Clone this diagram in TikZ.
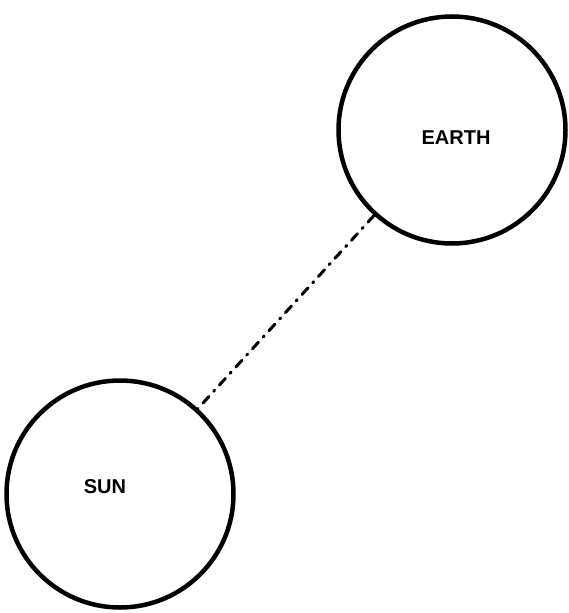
\documentclass[tikz,border=0pt]{standalone}
\usepackage{fontspec}
\setmainfont{Liberation Sans}
\begin{document}
\begin{tikzpicture}[x=1pt,y=-1pt,
  body/.style={circle,draw=black,line width=4.5pt,minimum size=227pt,inner sep=0pt},
  lbl/.style={font=\bfseries\fontsize{20}{20}\selectfont,inner sep=0pt},
  link/.style={line width=3pt,line cap=round,dash pattern=on 9pt off 7pt on 1.5pt off 7pt}]
\useasboundingbox (0,0) rectangle (568,613);
\node[body] (earth) at (452,130) {};
\node[body] (sun) at (120,494) {};
\node[lbl] (earthlbl) at (456,138) {EARTH};
\node[lbl] (sunlbl) at (105,487) {SUN};
\draw[link] (earth) -- (sun);
\end{tikzpicture}
\end{document}
